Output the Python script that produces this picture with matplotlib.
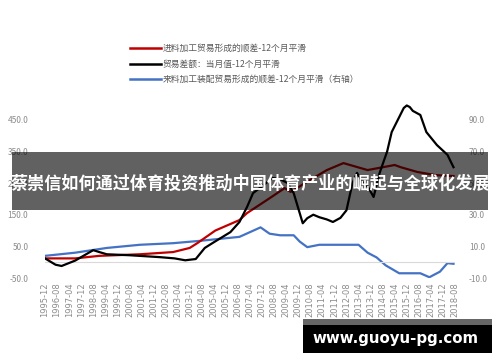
import numpy as np
import pandas as pd
import matplotlib
matplotlib.use("Agg")
import matplotlib.pyplot as plt
from matplotlib.patches import Rectangle
from matplotlib.lines import Line2D

plt.rcParams['font.family'] = ['Noto Sans CJK SC', 'DejaVu Sans']

# ---- data ----
start = pd.Period('1995-12', 'M')
end = pd.Period('2018-08', 'M')

red_dates = ['1995-12', '1997-08', '1998-12', '2001-03', '2003-01', '2003-12', '2004-05',
             '2005-05', '2006-09', '2007-02', '2008-05', '2009-03', '2009-07', '2010-08',
             '2011-07', '2012-06', '2013-10', '2015-04', '2015-08', '2016-07', '2017-07',
             '2018-07']
red_vals = [12, 12, 20, 25, 32, 45, 60, 100, 133, 155, 202, 234, 222, 260, 291, 313,
            291, 307, 300, 285, 275, 272]

black_dates = ['1995-12', '1996-07', '1996-11', '1997-08', '1998-08', '1998-12', '1999-05',
               '2000-08', '2002-04', '2003-02', '2003-09', '2004-04', '2004-10', '2005-03',
               '2006-03', '2006-09', '2007-02', '2007-06', '2007-12', '2008-07', '2008-12',
               '2009-05', '2009-09', '2010-03', '2010-06', '2010-10', '2011-02', '2011-07',
               '2011-11', '2012-04', '2012-08', '2012-12', '2013-03', '2013-07', '2013-10',
               '2014-02', '2014-06', '2014-11', '2015-02', '2015-06', '2015-10', '2015-12',
               '2016-02', '2016-04', '2016-09', '2017-01', '2017-08', '2018-03', '2018-07']
black_vals = [12, -8, -12, 5, 38, 32, 25, 22, 16, 12, 6, 10, 45, 60, 95, 127, 174, 218,
              240, 266, 262, 250, 218, 123, 139, 150, 142, 135, 127, 140, 164, 250, 282,
              250, 240, 206, 282, 350, 411, 449, 487, 495, 490, 478, 465, 411, 370, 339, 300]

blue_dates = ['1995-12', '1997-08', '1999-05', '2001-03', '2003-01', '2004-07', '2006-09',
              '2007-04', '2007-11', '2008-05', '2008-12', '2009-09', '2010-01', '2010-06',
              '2011-02', '2012-04', '2013-04', '2013-10', '2014-04', '2014-10', '2015-07',
              '2016-09', '2017-03', '2017-10', '2018-03', '2018-07']
blue_vals = [4, 6, 9, 11, 12, 13.5, 16, 19, 22, 18, 17, 17, 13, 9.5, 11, 11, 11, 6, 3,
             -2, -7, -7, -9.5, -6, -0.6, -1]

labels = ['进料加工贸易形成的顺差-12个月平滑',
          '贸易差额：当月值-12个月平滑',
          '来料加工装配贸易形成的顺差-12个月平滑（右轴）']
banner = '蔡崇信如何通过体育投资推动中国体育产业的崛起与全球化发展'
site = 'www.guoyu-pg.com'


def months(dates):
    return [(pd.Period(d, 'M') - start).n for d in dates]


fig = plt.figure(figsize=(5, 3.62), dpi=100)
ax = fig.add_axes([0.09, 0.232, 0.82, 0.481])
ax2 = ax.twinx()

ax.plot(months(red_dates), red_vals, color='#c00000', lw=1.6, zorder=3)
ax.plot(months(black_dates), black_vals, color='black', lw=1.6, zorder=4)
ax2.plot(months(blue_dates), blue_vals, color='#4472c4', lw=1.6)
ax.set_zorder(ax2.get_zorder() + 1)
ax.patch.set_visible(False)

ax.axhline(0, color='#d9d9d9', lw=0.8, zorder=1)

n_months = (end - start).n
ax.set_xlim(0, n_months)
ax.set_ylim(-50, 500)
ax2.set_ylim(-10, 100)
ax.set_yticks(np.arange(-50, 451, 100))
ax2.set_yticks(np.arange(-10, 91, 20))
ax.set_yticklabels([f'{v:.1f}' for v in np.arange(-50, 451, 100)])
ax2.set_yticklabels([f'{v:.1f}' for v in np.arange(-10, 91, 20)])

ticks = list(range(0, n_months + 1, 8))
ax.set_xticks(ticks)
ax.set_xticklabels([str(start + t) for t in ticks], rotation=90, fontsize=5.8,
                   color='#7f7f7f', family='DejaVu Sans')
for a in (ax, ax2):
    for s in a.spines.values():
        s.set_visible(False)
    a.tick_params(length=0, labelsize=6, labelcolor='#8c8c8c', pad=3)
ax.tick_params(axis='y', pad=12)
ax2.tick_params(axis='y', pad=10)

handles = [Line2D([], [], color='#c00000', lw=1.8),
           Line2D([], [], color='black', lw=1.8),
           Line2D([], [], color='#4472c4', lw=1.8)]
fig.legend(handles, labels, loc='upper left', bbox_to_anchor=(0.245, 0.9),
           frameon=False, fontsize=6.3, labelcolor='#595959', handlelength=3.5,
           handletextpad=0.15, labelspacing=0.75)

# overlay banner
fig.add_artist(Rectangle((12 / 500, 1 - 210 / 362), 476 / 500, 58 / 362,
                         transform=fig.transFigure, facecolor='black', alpha=0.62,
                         lw=0, zorder=10))
fig.text(0.5, 1 - 184 / 362, banner, ha='center', va='center', color='white',
         fontsize=12.3, fontweight='bold', zorder=11)

# site label
fig.add_artist(Rectangle((303 / 500, 1 - 325 / 362), 189 / 500, 6 / 362,
                         transform=fig.transFigure, facecolor='#666666', lw=0, zorder=10))
fig.add_artist(Rectangle((303 / 500, 1 - 353 / 362), 189 / 500, 28 / 362,
                         transform=fig.transFigure, facecolor='black', lw=0, zorder=10))
fig.text(396 / 500, 1 - 339 / 362, site, ha='center', va='center', color='white',
         fontsize=10.8, fontweight='bold', family='DejaVu Sans', zorder=11)

fig.savefig('out.png', dpi=100)
